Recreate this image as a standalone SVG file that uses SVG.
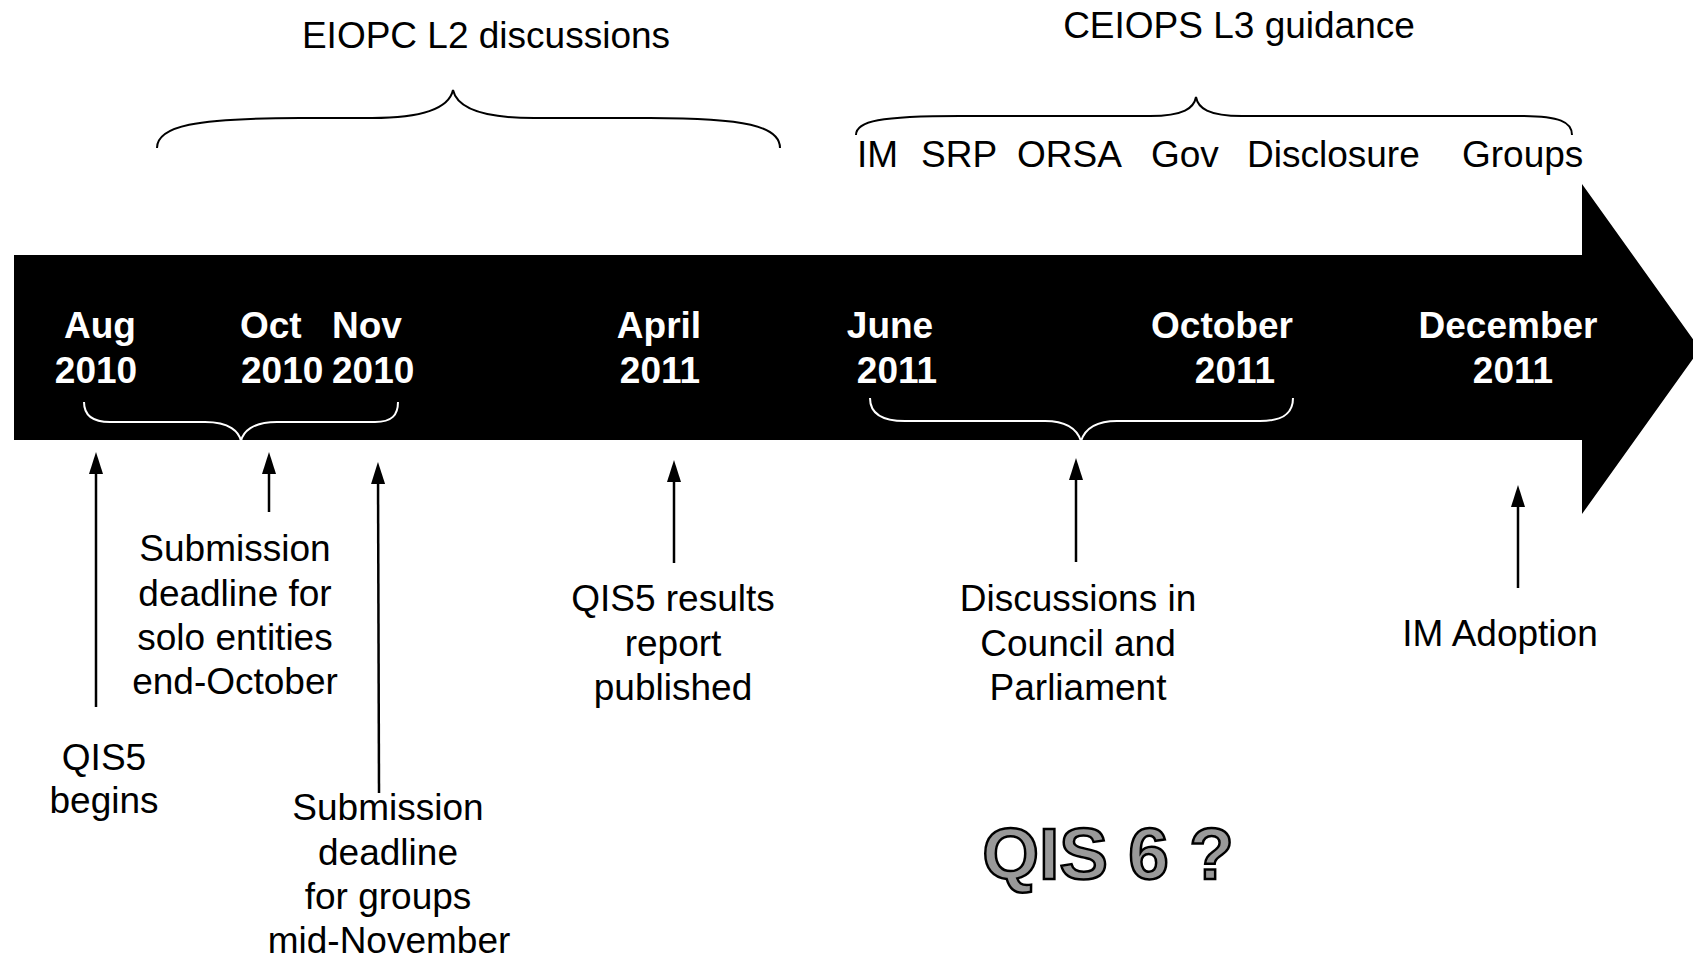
<svg xmlns="http://www.w3.org/2000/svg" width="1693" height="960" viewBox="0 0 1693 960">
<defs>
<style>
.t{font-family:"Liberation Sans",Arial,sans-serif;font-size:37px;fill:#000}
.c{text-anchor:middle}
.d{font-family:"Liberation Sans",Arial,sans-serif;font-size:37px;font-weight:bold;fill:#fff}
.br{fill:none;stroke:#000;stroke-width:2}
.wb{fill:none;stroke:#fff;stroke-width:2}
.ar{stroke:#000;stroke-width:2.5;fill:none;marker-end:url(#ah)}
</style>
<marker id="ah" viewBox="0 0 22 14" refX="12" refY="7" markerWidth="22" markerHeight="14" markerUnits="userSpaceOnUse" orient="auto">
<path d="M0,0 L22,7 L0,14 z" fill="#000"/>
</marker>
</defs>
<rect width="1693" height="960" fill="#fff"/>

<g id="timeline">
<path d="M14,255 L1582,255 L1582,184 L1700,349 L1582,514 L1582,440 L14,440 z" fill="#000"/>
</g>

<g id="eiopc">
<text class="t c" x="486" y="48">EIOPC L2 discussions</text>
<path class="br" d="M157,148 C157,126 195,118 300,118 L372,118 C425,118 449,108 453,90 C457,108 481,118 534,118 L650,118 C745,118 780,126 780,148"/>
</g>

<g id="ceiops">
<text class="t c" x="1239" y="38">CEIOPS L3 guidance</text>
<path class="br" d="M856,135 C856,121 880,116 960,116 L1150,116 C1184,116 1194,108 1196,97 C1198,108 1208,116 1242,116 L1520,116 C1560,116 1572,122 1572,135"/>
<text class="t" x="857" y="167">IM</text>
<text class="t" x="921" y="167">SRP</text>
<text class="t" x="1017" y="167">ORSA</text>
<text class="t" x="1151" y="167">Gov</text>
<text class="t" x="1247" y="167">Disclosure</text>
<text class="t" x="1462" y="167">Groups</text>
</g>

<g id="date-aug">
<text class="d c" x="100" y="338">Aug</text>
<text class="d c" x="96" y="383">2010</text>
</g>
<g id="date-oct">
<text class="d" x="240" y="338">Oct</text>
<text class="d" x="241" y="383">2010</text>
</g>
<g id="date-nov">
<text class="d" x="332" y="338">Nov</text>
<text class="d" x="332" y="383">2010</text>
</g>
<g id="date-apr">
<text class="d c" x="659" y="338">April</text>
<text class="d c" x="660" y="383">2011</text>
</g>
<g id="date-jun">
<text class="d c" x="890" y="338">June</text>
<text class="d c" x="897" y="383">2011</text>
</g>
<g id="date-octy">
<text class="d c" x="1222" y="338">October</text>
<text class="d c" x="1235" y="383">2011</text>
</g>
<g id="date-dec">
<text class="d c" x="1508" y="338">December</text>
<text class="d c" x="1513" y="383">2011</text>
</g>

<g id="brace-2010">
<path class="wb" d="M84,402 C84,415 92,422 110,422 L205,422 C230,422 239,432 241,441 C243,432 252,422 277,422 L375,422 C392,422 398,415 398,402"/>
</g>
<g id="brace-2011">
<path class="wb" d="M870,398 C870,412 880,421 905,421 L1045,421 C1070,421 1078,432 1081,441 C1084,432 1092,421 1117,421 L1260,421 C1285,421 1293,412 1293,398"/>
</g>

<g id="connectors">
<line class="ar" x1="96" y1="707" x2="96" y2="462"/>
<line class="ar" x1="269" y1="512" x2="269" y2="462"/>
<line class="ar" x1="379" y1="793" x2="378" y2="472"/>
<line class="ar" x1="674" y1="563" x2="674" y2="470"/>
<line class="ar" x1="1076" y1="562" x2="1076" y2="468"/>
<line class="ar" x1="1518" y1="588" x2="1518" y2="495"/>
</g>

<g id="qis5-begins">
<text class="t c" x="104" y="770">QIS5</text>
<text class="t c" x="104" y="813">begins</text>
</g>
<g id="solo-deadline">
<text class="t c" x="235" y="561">Submission</text>
<text class="t c" x="235" y="606">deadline for</text>
<text class="t c" x="235" y="650">solo entities</text>
<text class="t c" x="235" y="694">end-October</text>
</g>
<g id="group-deadline">
<text class="t c" x="388" y="820">Submission</text>
<text class="t c" x="388" y="865">deadline</text>
<text class="t c" x="388" y="909">for groups</text>
<text class="t c" x="389" y="953">mid-November</text>
</g>
<g id="qis5-results">
<text class="t c" x="673" y="611">QIS5 results</text>
<text class="t c" x="673" y="656">report</text>
<text class="t c" x="673" y="700">published</text>
</g>
<g id="discussions">
<text class="t c" x="1078" y="611">Discussions in</text>
<text class="t c" x="1078" y="656">Council and</text>
<text class="t c" x="1078" y="700">Parliament</text>
</g>
<g id="im-adoption">
<text class="t c" x="1500" y="646">IM Adoption</text>
</g>
<g id="qis6">
<text x="1108" y="879" text-anchor="middle" font-family="Liberation Sans, Arial, sans-serif" font-size="73" font-weight="bold" fill="#999" stroke="#000" stroke-width="2.5">QIS 6 ?</text>
</g>
</svg>
